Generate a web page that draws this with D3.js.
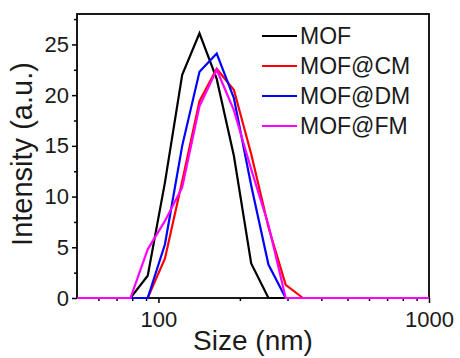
<!DOCTYPE html>
<html>
<head>
<meta charset="utf-8">
<script src="https://cdn.jsdelivr.net/npm/d3@7"></script>
<style>
  body { margin: 0; background: #fff; }
  text { font-family: Arial, "Liberation Sans", sans-serif; fill: #1a1a1a; }
</style>
</head>
<body>
<svg id="chart" width="460" height="358"></svg>
<script>
// DLS size bins (nm)
const sizes = [43.82, 50.75, 58.77, 68.06, 78.82, 91.28, 105.7, 122.4, 141.8, 164.2, 190.1, 220.2, 255.0, 295.3, 342.0, 396.1, 458.7, 531.2, 615.1, 712.4, 825.0, 955.4, 1106];
const mof   = [0, 0, 0, 0, 0, 2.2, 11.4, 22.0, 26.1, 21.6, 14.0, 3.4, 0, 0, 0, 0, 0, 0, 0, 0, 0, 0, 0];
const mofCM = [0, 0, 0, 0, 0, 0, 3.9, 11.5, 19.4, 22.6, 20.5, 14.2, 7.0, 1.3, 0, 0, 0, 0, 0, 0, 0, 0, 0];
const mofDM = [0, 0, 0, 0, 0, 0, 5.3, 15.0, 22.3, 24.1, 19.7, 11.1, 3.3, 0, 0, 0, 0, 0, 0, 0, 0, 0, 0];
const mofFM = [0, 0, 0, 0, 0, 4.8, 7.6, 10.9, 18.9, 22.5, 18.5, 12.7, 7.2, 0, 0, 0, 0, 0, 0, 0, 0, 0, 0];

const seriesNames = ["MOF", "MOF@CM", "MOF@DM", "MOF@FM"];
const seriesValues = [mof, mofCM, mofDM, mofFM];
const colors = ["#000000", "#ff0000", "#0000ff", "#ff00ff"];

const yTicks = [0, 5, 10, 15, 20, 25];
const yMinor = [2.5, 7.5, 12.5, 17.5, 22.5, 27.5];
const xTicks = [100, 1000];
const xMinor = [60, 70, 80, 90, 200, 300, 400, 500, 600, 700, 800, 900];

var margin = { top: 14, bottom: 60, left: 77, right: 31 };
var width = 460 - margin.left - margin.right,
    height = 358 - margin.top - margin.bottom;

var svg = d3.select("#chart")
    .append("g")
    .attr("transform", "translate(" + margin.left + "," + margin.top + ")");

var x = d3.scaleLog().domain([50, 1000]).range([0, width]);
var y = d3.scaleLinear().domain([0, 28]).range([height, 0]);

// clip only left/right so the zero lines stay visible on the baseline
svg.append("defs").append("clipPath")
    .attr("id", "clip")
    .append("rect")
    .attr("y", -5)
    .attr("width", width)
    .attr("height", height + 10);

// axes
const xAxis = svg.append("g")
    .attr("transform", `translate(0, ${height})`)
    .call(d3.axisBottom(x).tickValues(xTicks).tickFormat(d3.format("d")).tickSize(5).tickSizeOuter(0));
xAxis.selectAll("text").style("font-size", "22px").attr("dy", "0.95em");

svg.append("g")
    .attr("transform", `translate(0, ${height})`)
    .call(d3.axisBottom(x).tickValues(xMinor).tickFormat("").tickSize(3).tickSizeOuter(0));

const yAxis = svg.append("g")
    .call(d3.axisLeft(y).tickValues(yTicks).tickSize(5).tickSizeOuter(0));
yAxis.selectAll("text").style("font-size", "22px").attr("x", -8);

svg.append("g")
    .call(d3.axisLeft(y).tickValues(yMinor).tickFormat("").tickSize(3).tickSizeOuter(0));

svg.selectAll(".domain").remove();
svg.selectAll(".tick line").attr("stroke", "#000").attr("stroke-width", 1.5);

// frame
svg.append("rect")
    .attr("width", width)
    .attr("height", height)
    .attr("fill", "none")
    .attr("stroke", "#000")
    .attr("stroke-width", 1.8);

// curves
const line = d3.line()
    .x(d => x(d[0]))
    .y(d => y(d[1]));

seriesValues.forEach((vals, i) => {
    svg.append("path")
        .datum(sizes.map((s, j) => [s, vals[j]]))
        .attr("clip-path", "url(#clip)")
        .attr("fill", "none")
        .attr("stroke", colors[i])
        .attr("stroke-width", 2.2)
        .attr("d", line);
});

// legend
const legend = svg.append("g").attr("transform", "translate(185, 22)");
seriesNames.forEach((name, i) => {
    legend.append("line")
        .attr("x1", 0).attr("x2", 35)
        .attr("y1", i * 30).attr("y2", i * 30)
        .attr("stroke", colors[i])
        .attr("stroke-width", 2.2);
    legend.append("text")
        .attr("x", 38)
        .attr("y", i * 30)
        .attr("dy", "0.36em")
        .style("font-size", "23px")
        .text(name);
});

// axis titles
svg.append("text")
    .attr("x", width / 2)
    .attr("y", height + 52)
    .attr("text-anchor", "middle")
    .style("font-size", "28px")
    .text("Size (nm)");

svg.append("text")
    .attr("transform", "rotate(-90)")
    .attr("x", -height / 2 + 2)
    .attr("y", -45)
    .attr("text-anchor", "middle")
    .style("font-size", "29px")
    .text("Intensity (a.u.)");
</script>
</body>
</html>
